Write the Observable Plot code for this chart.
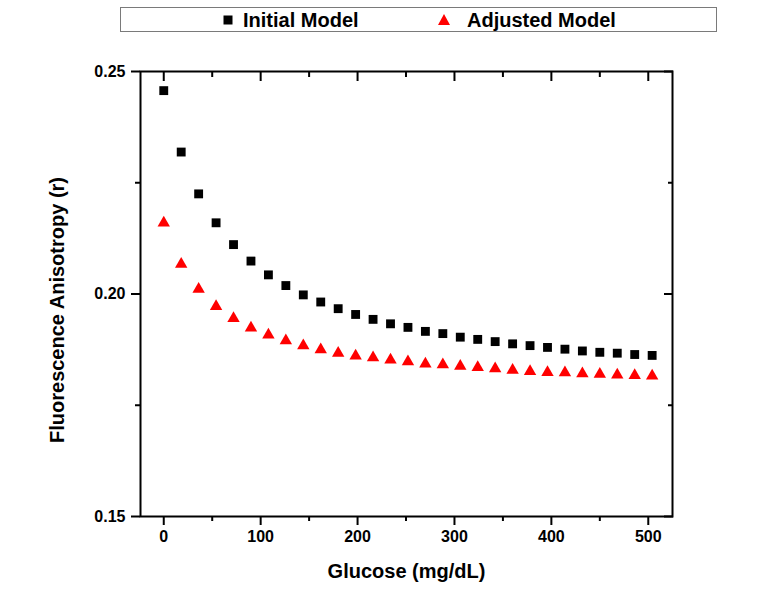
<!DOCTYPE html>
<html>
<head>
<meta charset="utf-8">
<script src="https://cdn.jsdelivr.net/npm/d3@7"></script>
<script src="https://cdn.jsdelivr.net/npm/@observablehq/plot@0.6"></script>
<style>
  html, body { margin: 0; padding: 0; background: #fff; }
  body { width: 781px; height: 602px; overflow: hidden; font-family: "Liberation Sans", Arial, sans-serif; }
  #legend { position: relative; width: 781px; height: 36px; }
  #legend .box { position: absolute; left: 120px; top: 7px; width: 595px; height: 23px; border: 1px solid #7a7a7a; }
  #legend .item { position: absolute; top: 0; height: 23px; line-height: 24px; font-size: 20px; font-weight: bold; color: #000; white-space: nowrap; }
  #legend svg { position: absolute; }
  #chart svg { display: block; }
</style>
</head>
<body>
<div id="legend"></div>
<div id="chart"></div>
<script>
// Data
const glucose = [0, 18, 36, 54, 72, 90, 108, 126, 144, 162, 180, 198, 216, 234, 252, 270, 288, 306, 324, 342, 360, 378, 396, 414, 432, 450, 468, 486, 504];
const initialModel = [0.2457, 0.2319, 0.2225, 0.2160, 0.2111, 0.2074, 0.2043, 0.2019, 0.1998, 0.1982, 0.1967, 0.1954, 0.1943, 0.1933, 0.1925, 0.1916, 0.1911, 0.1903, 0.1898, 0.1893, 0.1888, 0.1884, 0.1880, 0.1876, 0.1872, 0.1869, 0.1867, 0.1864, 0.1862];
const adjustedModel = [0.2160, 0.2067, 0.2011, 0.1972, 0.1945, 0.1924, 0.1908, 0.1895, 0.1884, 0.1875, 0.1867, 0.1861, 0.1857, 0.1852, 0.1848, 0.1843, 0.1841, 0.1838, 0.1835, 0.1832, 0.1829, 0.1826, 0.1824, 0.1823, 0.1821, 0.1820, 0.1818, 0.1817, 0.1816];
const seriesNames = ["Initial Model", "Adjusted Model"];
const xMajorTicks = [0, 100, 200, 300, 400, 500];
const xMinorTicks = [50, 150, 250, 350, 450];
const yMajorTicks = [0.15, 0.20, 0.25];
const yMinorTicks = [0.175, 0.225];
const xTitle = "Glucose (mg/dL)";
const yTitle = "Fluorescence Anisotropy (r)";

const initialRows = glucose.map((g, i) => ({x: g, y: initialModel[i]}));
const adjustedRows = glucose.map((g, i) => ({x: g, y: adjustedModel[i]}));

// Legend (HTML, above the SVG)
const legend = document.getElementById("legend");
legend.innerHTML = `
  <div class="box">
    <svg width="12" height="12" style="left:101px;top:6px"><rect x="1.5" y="1.5" width="9" height="9" fill="#000"/></svg>
    <div class="item" style="left:122px">${seriesNames[0]}</div>
    <svg width="14" height="13" style="left:316px;top:5px"><path d="M7,1 L13,12 L1,12 Z" fill="#ff0000"/></svg>
    <div class="item" style="left:346px">${seriesNames[1]}</div>
  </div>`;

const fam = "'Liberation Sans', Arial, sans-serif";

const chart = Plot.plot({
  width: 781,
  height: 566,
  marginTop: 35,
  marginBottom: 86,
  marginLeft: 140,
  marginRight: 109,
  style: {fontFamily: fam, fontSize: "16px", fontWeight: "bold", color: "#000", background: "#fff"},
  x: {domain: [-24, 525]},
  y: {domain: [0.15, 0.25]},
  marks: [
    Plot.dot(initialRows, {x: "x", y: "y", symbol: "square", r: 5, fill: "#000"}),
    Plot.dot(adjustedRows, {x: "x", y: "y", symbol: "triangle", r: 4.6, fill: "#ff0000"}),
    // bottom axis (outward ticks + labels)
    Plot.axisX({anchor: "bottom", ticks: xMajorTicks, tickSize: 9, tickPadding: 5, strokeWidth: 2,
      fontSize: 16, fontWeight: "bold", label: null}),
    Plot.axisX({anchor: "bottom", ticks: xMinorTicks, tickSize: 5, strokeWidth: 2, tickFormat: () => "", label: null}),
    // top axis (inward ticks)
    Plot.axisX({anchor: "top", ticks: xMajorTicks, tickSize: -9, strokeWidth: 2, tickFormat: () => "", label: null}),
    Plot.axisX({anchor: "top", ticks: xMinorTicks, tickSize: -5, strokeWidth: 2, tickFormat: () => "", label: null}),
    // left axis
    Plot.axisY({anchor: "left", ticks: yMajorTicks, tickSize: 9, tickPadding: 6, strokeWidth: 2,
      fontSize: 16, fontWeight: "bold", tickFormat: d3.format(".2f"), label: null}),
    Plot.axisY({anchor: "left", ticks: yMinorTicks, tickSize: 5, strokeWidth: 2, tickFormat: () => "", label: null}),
    // right axis (inward ticks)
    Plot.axisY({anchor: "right", ticks: yMajorTicks, tickSize: -9, strokeWidth: 2, tickFormat: () => "", label: null}),
    Plot.axisY({anchor: "right", ticks: yMinorTicks, tickSize: -5, strokeWidth: 2, tickFormat: () => "", label: null}),
    Plot.frame({stroke: "#000", strokeWidth: 2}),
    // axis titles
    Plot.text([xTitle], {frameAnchor: "bottom", dy: 55, lineAnchor: "middle", textAnchor: "middle",
      fontSize: 20, fontWeight: "bold", fill: "#000"}),
    Plot.text([yTitle], {frameAnchor: "left", dx: -83, dy: 16, rotate: -90, lineAnchor: "middle", textAnchor: "middle",
      fontSize: 20, fontWeight: "bold", fill: "#000"})
  ]
});
document.getElementById("chart").appendChild(chart);
</script>
</body>
</html>
